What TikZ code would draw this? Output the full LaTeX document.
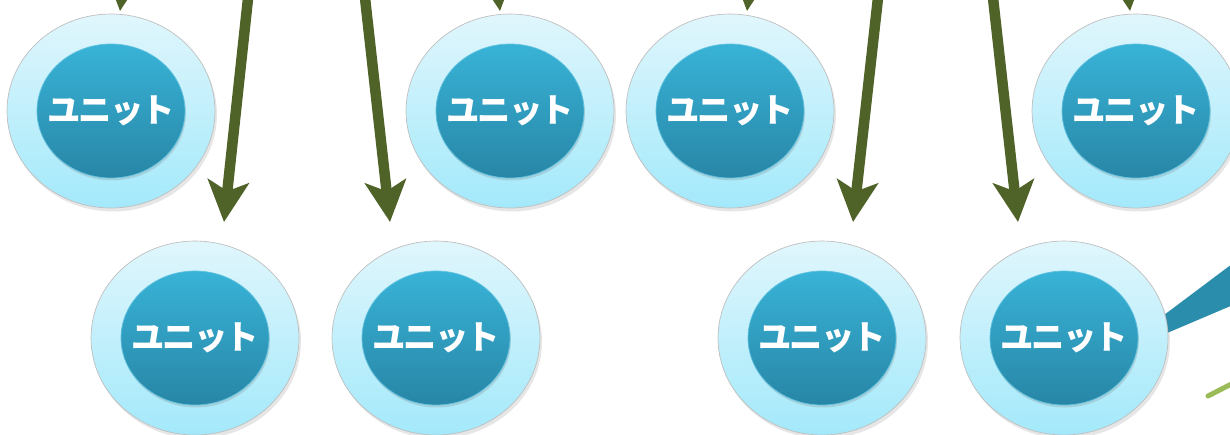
\documentclass[tikz,border=0pt]{standalone}
\usepackage{fontspec}
\newfontfamily\jpfont[LetterSpace=-6]{Noto Sans CJK JP}
\usetikzlibrary{shapes.geometric, arrows.meta, shadows}

\definecolor{ringtop}{HTML}{E0F6FC}
\definecolor{ringbot}{HTML}{A3E9FB}
\definecolor{coretop}{HTML}{38B3D7}
\definecolor{corebot}{HTML}{2886A6}
\definecolor{flowgreen}{HTML}{4F6228}
\definecolor{calloutteal}{HTML}{2A8DAC}
\definecolor{leafgreen}{HTML}{9BBB59}

\tikzset{
  ring/.style={ellipse, draw=black!25, line width=0.4pt, inner sep=0pt,
    top color=ringtop, bottom color=ringbot,
    minimum width=4.16cm, minimum height=3.88cm,
    drop shadow={shadow xshift=0.04cm, shadow yshift=-0.07cm, opacity=0.2}},
  core/.style={ellipse, draw=coretop!80!white, line width=0.4pt, inner sep=0pt,
    top color=coretop, bottom color=corebot,
    minimum width=2.96cm, minimum height=2.68cm,
    drop shadow={shadow xshift=0.02cm, shadow yshift=-0.05cm, opacity=0.25}},
  unitlabel/.style={text=white, inner sep=0pt,
    font=\jpfont\bfseries\fontsize{19}{22}\selectfont},
  flow/.style={line width=0.21cm, flowgreen,
    -{Stealth[length=0.82cm, width=0.82cm, inset=0.2cm]}}
}

\begin{document}
\begin{tikzpicture}[x=0.02cm, y=-0.02cm]
  \useasboundingbox (0,0) rectangle (1230,434);
  \clip (0,0) rectangle (1230,434);

  \fill[calloutteal] (1160,318) -- (1240,258) -- (1240,302) -- (1160,336) -- cycle;
  \draw[line width=0.1cm, line cap=round, leafgreen] (1208,396) -- (1245,377);

  \foreach \x/\y/\n in {111/111/1, 510/111/2, 730/111/3, 1136/111/4,
                        195/338/5, 436/338/6, 822/338/7, 1064/338/8} {
    \node[ring] (u\n) at (\x,\y) {};
    \node[core] (c\n) at (u\n) {};
    \node[unitlabel] (l\n) at (c\n) {ユニット};
  }

  \foreach \sx/\sy/\tx/\ty/\n in {145/-211/120/11/1, 475/-211/500/11/2,
                                  772/-211/747/11/3, 1105/-211/1130/11/4,
                                  250/-20/224/222/5, 363/-20/390/222/6,
                                  880/-20/853/222/7, 991/-20/1018/222/8} {
    \coordinate (s\n) at (\sx,\sy);
    \coordinate (t\n) at (\tx,\ty);
    \draw[flow] (s\n) -- (t\n);
  }
\end{tikzpicture}
\end{document}
